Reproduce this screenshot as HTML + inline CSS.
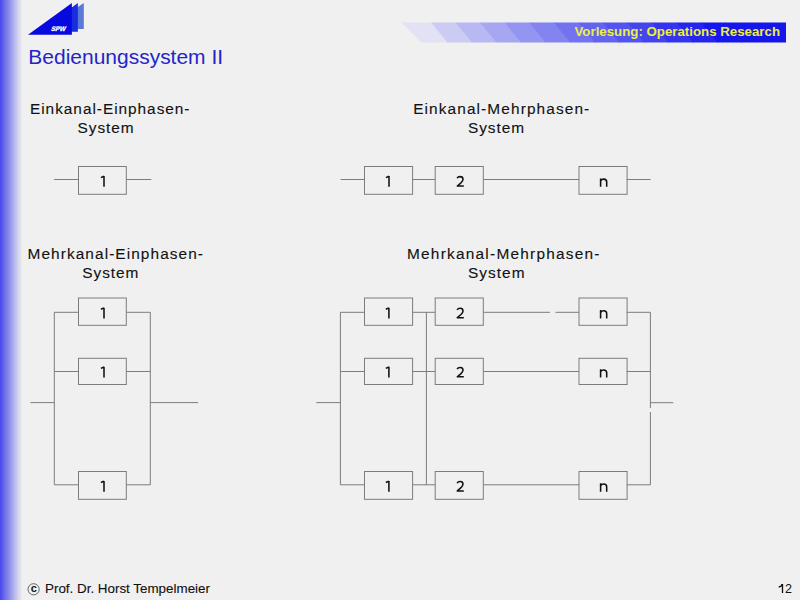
<!DOCTYPE html>
<html><head><meta charset="utf-8"><title>Bedienungssystem II</title>
<style>
html,body{margin:0;padding:0;}
body{width:800px;height:600px;overflow:hidden;position:relative;background:#f0f0f0;font-family:"Liberation Sans",sans-serif;}
.side{position:absolute;left:0;top:0;width:24px;height:600px;background:linear-gradient(to right,#4a4af0 0px,#5050ee 1.5px,#6a6ae8 4px,#8484ea 8px,#a4a4ec 12px,#c4c4ee 16px,#e0e0ee 20px,#f0f0f0 22.5px);}
svg{position:absolute;left:0;top:0;}
.lab{font-family:"Liberation Sans",sans-serif;font-size:15.4px;fill:#121212;stroke:#121212;stroke-width:0.12px;}
</style></head>
<body>
<div class="side"></div>
<svg width="800" height="600" viewBox="0 0 800 600">
<g>
<polygon points="45,29 83.8,3 83.8,29" fill="#5a78d8"/>
<polygon points="38,31.8 77.9,3 77.9,31.8" fill="#1a2ee0"/>
<polygon points="28,34.8 71.9,3 71.9,34.8" fill="#0808e0"/>
</g>
<text transform="translate(50.7 30.7) skewX(-16)" x="0" y="0" font-family="Liberation Sans" font-size="6.6" font-weight="bold" fill="#ffffff" stroke="#ffffff" stroke-width="0.25" textLength="14.4" lengthAdjust="spacingAndGlyphs">SPW</text>
<g>
<polygon points="401.5,22.4 431.6,22.4 448.1,42.4 421.5,42.4" fill="#e2e2f4"/>
<polygon points="431,22.4 456.1,22.4 472.6,42.4 447.5,42.4" fill="#cbcbf3"/>
<polygon points="455.5,22.4 480.6,22.4 497.1,42.4 472,42.4" fill="#b8b8f3"/>
<polygon points="480,22.4 505.1,22.4 521.6,42.4 496.5,42.4" fill="#a6a6f2"/>
<polygon points="504.5,22.4 529.6,22.4 546.1,42.4 521,42.4" fill="#9494f2"/>
<polygon points="529,22.4 554.1,22.4 570.6,42.4 545.5,42.4" fill="#8484f1"/>
<polygon points="553.5,22.4 578.6,22.4 595.1,42.4 570,42.4" fill="#7373f1"/>
<polygon points="578,22.4 603.1,22.4 619.6,42.4 594.5,42.4" fill="#6363f0"/>
<polygon points="602.5,22.4 627.6,22.4 644.1,42.4 619,42.4" fill="#5353f0"/>
<polygon points="627,22.4 652.1,22.4 668.6,42.4 643.5,42.4" fill="#4444ef"/>
<polygon points="651.5,22.4 676.6,22.4 693.1,42.4 668,42.4" fill="#3434ef"/>
<polygon points="676,22.4 701.1,22.4 717.6,42.4 692.5,42.4" fill="#2525ee"/>
<polygon points="700.5,22.4 725.6,22.4 742.1,42.4 717,42.4" fill="#1616ee"/>
<polygon points="725,22.4 786,22.4 786,42.4 741.5,42.4" fill="#1616ec"/>
</g>
<text x="574.5" y="35.6" font-family="Liberation Sans" font-size="12.5" font-weight="bold" fill="#ecef44" textLength="205.5" lengthAdjust="spacingAndGlyphs">Vorlesung: Operations Research</text>
<text x="28.3" y="64" font-family="Liberation Sans" font-size="20" fill="#2424c8" textLength="194.8" lengthAdjust="spacingAndGlyphs">Bedienungssystem II</text>
<g stroke="#7c7c7c" stroke-width="1" fill="none">
<path d="M54 179.5H78.5"/><path d="M126.3 179.5H151.3"/><path d="M340.5 179.5H364.5"/><path d="M412.6 179.5H435.2"/><path d="M483.5 179.5H579"/><path d="M626.7 179.5H650.6"/><path d="M54.3 312.3H78.5"/><path d="M126.3 312.3H150.3"/><path d="M54.3 371.5H78.5"/><path d="M126.3 371.5H150.3"/><path d="M54.3 484.8H78.5"/><path d="M126.3 484.8H150.3"/><path d="M54.3 312.3V484.8"/><path d="M150.3 312.3V484.8"/><path d="M30.5 402.6H54.3"/><path d="M150.3 402.6H198"/><path d="M340.4 312.3H364.5"/><path d="M412.6 312.3H435.2"/><path d="M483.3 312.3H550"/><path d="M555.5 312.3H579"/><path d="M626.7 312.3H650.4"/><path d="M340.4 371.5H364.5"/><path d="M412.6 371.5H435.2"/><path d="M483.3 371.5H579"/><path d="M626.7 371.5H650.4"/><path d="M340.4 484.8H364.5"/><path d="M412.6 484.8H435.2"/><path d="M483.3 484.8H579"/><path d="M626.7 484.8H650.4"/><path d="M340.4 312.3V484.8"/><path d="M426.4 312.3V484.8"/><path d="M650.4 312.3V408"/><path d="M650.4 412V484.8"/><path d="M316.3 402.6H340.4"/><path d="M650.4 402.7H673.3"/>
<rect x="78.5" y="166.5" width="47.8" height="27.8"/><rect x="364.5" y="166.5" width="48.1" height="27.8"/><rect x="435.2" y="166.5" width="48.1" height="27.8"/><rect x="579" y="166.5" width="48.1" height="27.8"/><rect x="78.5" y="298" width="47.8" height="27.3"/><rect x="78.5" y="358.3" width="47.8" height="26.2"/><rect x="78.5" y="471.5" width="47.8" height="27.8"/><rect x="364.5" y="298" width="48.1" height="27.3"/><rect x="435.2" y="298" width="48.1" height="27.3"/><rect x="579" y="298" width="48.1" height="27.3"/><rect x="364.5" y="358.3" width="48.1" height="26.2"/><rect x="435.2" y="358.3" width="48.1" height="26.2"/><rect x="579" y="358.3" width="48.1" height="26.2"/><rect x="364.5" y="471.5" width="48.1" height="27.8"/><rect x="435.2" y="471.5" width="48.1" height="27.8"/><rect x="579" y="471.5" width="48.1" height="27.8"/>
</g>
<g stroke="#111111" stroke-width="1.55" fill="none" stroke-linecap="butt" stroke-linejoin="miter">
<path d="M100.9 177.6L104 176.2M104 176V186.8"/><path d="M385.9 177.6L389 176.2M389 176V186.8"/><path stroke-linejoin="round" d="M457.1 178.3C457.7 177 458.8 176.6 460.1 176.6C461.9 176.6 463 177.7 463 179.2C463 180.7 462.1 181.7 461 182.8L457.3 186L463.8 186"/><path d="M600.6 178.4V186.8M600.6 181C601.3 179.4 602.5 179.1 603.7 179.1C605.6 179.1 606.7 180.1 606.7 182V186.8"/><path d="M100.9 309.3L104 307.9M104 307.7V318.5"/><path d="M100.9 368.4L104 367M104 366.8V377.6"/><path d="M100.9 482.5L104 481.1M104 480.9V491.7"/><path d="M385.8 309.3L388.9 307.9M388.9 307.7V318.5"/><path stroke-linejoin="round" d="M457.1 310C457.7 308.7 458.8 308.3 460.1 308.3C461.9 308.3 463 309.4 463 310.9C463 312.4 462.1 313.4 461 314.5L457.3 317.7L463.8 317.7"/><path d="M600.6 310.1V318.5M600.6 312.7C601.3 311.1 602.5 310.8 603.7 310.8C605.6 310.8 606.7 311.8 606.7 313.7V318.5"/><path d="M385.8 368.4L388.9 367M388.9 366.8V377.6"/><path stroke-linejoin="round" d="M457.1 369.1C457.7 367.8 458.8 367.4 460.1 367.4C461.9 367.4 463 368.5 463 370C463 371.5 462.1 372.5 461 373.6L457.3 376.8L463.8 376.8"/><path d="M600.6 369.2V377.6M600.6 371.8C601.3 370.2 602.5 369.9 603.7 369.9C605.6 369.9 606.7 370.9 606.7 372.8V377.6"/><path d="M385.8 482.5L388.9 481.1M388.9 480.9V491.7"/><path stroke-linejoin="round" d="M457.1 483.2C457.7 481.9 458.8 481.5 460.1 481.5C461.9 481.5 463 482.6 463 484.1C463 485.6 462.1 486.6 461 487.7L457.3 490.9L463.8 490.9"/><path d="M600.6 483.3V491.7M600.6 485.9C601.3 484.3 602.5 484 603.7 484C605.6 484 606.7 485 606.7 486.9V491.7"/>
</g>
<text x="30" y="113.9" class="lab" textLength="159.5" lengthAdjust="spacing">Einkanal-Einphasen-</text><text x="77.6" y="133" class="lab" textLength="56" lengthAdjust="spacing">System</text><text x="413.2" y="113.9" class="lab" textLength="176" lengthAdjust="spacing">Einkanal-Mehrphasen-</text><text x="468" y="133" class="lab" textLength="56" lengthAdjust="spacing">System</text><text x="27.5" y="259.4" class="lab" textLength="175.5" lengthAdjust="spacing">Mehrkanal-Einphasen-</text><text x="82.3" y="278.4" class="lab" textLength="56" lengthAdjust="spacing">System</text><text x="407" y="259.4" class="lab" textLength="192.5" lengthAdjust="spacing">Mehrkanal-Mehrphasen-</text><text x="468" y="278.4" class="lab" textLength="56.5" lengthAdjust="spacing">System</text>
<circle cx="33.6" cy="589.3" r="5.6" fill="none" stroke="#555" stroke-width="0.9"/>
<text x="33.8" y="592.3" text-anchor="middle" font-family="Liberation Sans" font-size="11" font-weight="bold" fill="#111">c</text>
<text x="45" y="593" font-family="Liberation Sans" font-size="13.5" fill="#111" stroke="#111" stroke-width="0.12" textLength="165" lengthAdjust="spacingAndGlyphs">Prof. Dr. Horst Tempelmeier</text>
<path d="M778.7 587C780.5 586.8 781.7 585.9 782 584.1M782.5 583.9V592.9" stroke="#111" stroke-width="1.3" fill="none"/><text x="785" y="592.9" font-family="Liberation Sans" font-size="12.5" fill="#111" textLength="7" lengthAdjust="spacingAndGlyphs">2</text>
</svg>
</body></html>
